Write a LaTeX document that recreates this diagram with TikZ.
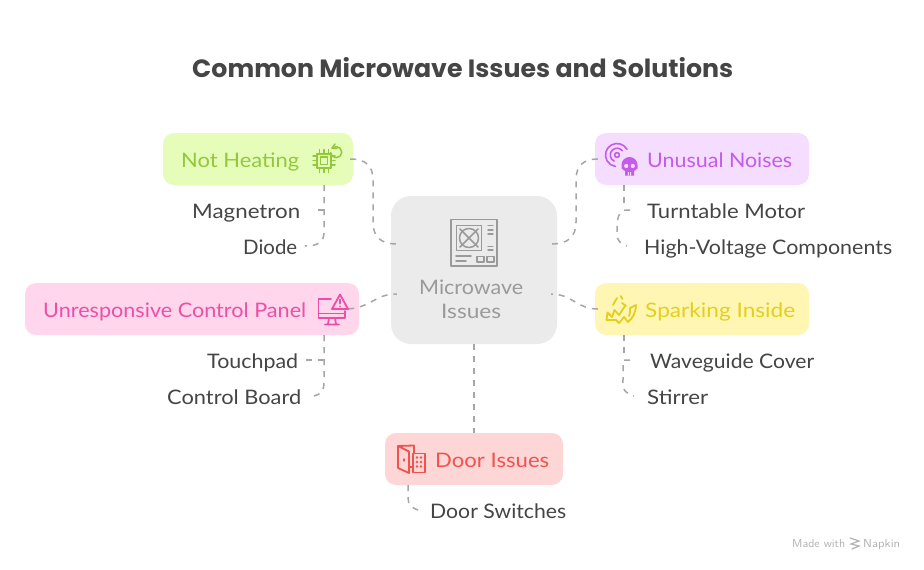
\documentclass[tikz,border=0pt]{standalone}
\usepackage{fontspec}
\usepackage{graphicx}
\setmainfont{Lato}
\newfontfamily\titlefont{Poppins}
\usetikzlibrary{calc}
\definecolor{inkc}{HTML}{454545}
\definecolor{centc}{HTML}{9A9A9A}
\definecolor{centf}{HTML}{EBEBEB}
\definecolor{conc}{HTML}{A6A6A6}
\definecolor{grn}{HTML}{93C83C}
\definecolor{grnf}{HTML}{E6FDBA}
\definecolor{pur}{HTML}{C45BEA}
\definecolor{purf}{HTML}{F4DDFF}
\definecolor{pnk}{HTML}{EC4FA8}
\definecolor{pnkf}{HTML}{FFD6EC}
\definecolor{ylw}{HTML}{E6CE1E}
\definecolor{ylwf}{HTML}{FFF6B3}
\definecolor{redc}{HTML}{EF5350}
\definecolor{redf}{HTML}{FFD6D6}
\newcommand{\fitw}[2]{\resizebox{#1pt}{\height}{#2}}
\tikzset{
  x=1pt,y=-1pt,
  box/.style={draw=none,rounded corners=11pt,inner sep=0pt},
  lbl/.style={anchor=base west,inner sep=0pt,font=\fontsize{20}{24}\selectfont},
  conn/.style={draw=conc,line width=1.5pt,dash pattern=on 6pt off 6pt},
  icon/.style={line width=1.8pt,line join=round,line cap=round},
}
\begin{document}
\begin{tikzpicture}
\useasboundingbox (0,0) rectangle (924,570);
\fill[white] (0,0) rectangle (924,570);
% boxes
\node[box,fill=centf,rounded corners=20pt,minimum width=166pt,minimum height=148pt] (cent) at (474,270) {};
\node[box,fill=grnf,minimum width=190pt,minimum height=52pt] (noth) at (258,159) {};
\node[box,fill=purf,minimum width=214pt,minimum height=52pt] (unus) at (702,159) {};
\node[box,fill=pnkf,minimum width=334pt,minimum height=52pt] (unre) at (192,309) {};
\node[box,fill=ylwf,minimum width=214pt,minimum height=52pt] (spar) at (702,309) {};
\node[box,fill=redf,minimum width=178pt,minimum height=52pt] (door) at (474,459) {};
% title
\node[anchor=base west,inner sep=0pt,text=inkc] (title) at (192,77) {\fitw{541}{\titlefont\bfseries\fontsize{25}{30}\selectfont Common Microwave Issues and Solutions}};
% labels
\node[lbl,text=grn] (tnoth) at (181,167) {\fitw{118}{Not Heating}};
\node[lbl,text=inkc] (tmag) at (192,218) {\fitw{108}{Magnetron}};
\node[lbl,text=inkc] (tdio) at (243,254) {\fitw{54}{Diode}};
\node[lbl,text=pur] (tunus) at (647,167) {\fitw{145}{Unusual Noises}};
\node[lbl,text=inkc] (ttur) at (647,218) {\fitw{158}{Turntable Motor}};
\node[lbl,text=inkc] (thig) at (644,254) {\fitw{248}{High-Voltage Components}};
\node[lbl,text=pnk] (tunre) at (43,317) {\fitw{263}{Unresponsive Control Panel}};
\node[lbl,text=inkc] (ttou) at (207,368) {\fitw{91}{Touchpad}};
\node[lbl,text=inkc] (tcon) at (167,404) {\fitw{134}{Control Board}};
\node[lbl,text=ylw] (tspar) at (645,317) {\fitw{150}{Sparking Inside}};
\node[lbl,text=inkc] (twav) at (650,368) {\fitw{164}{Waveguide Cover}};
\node[lbl,text=inkc] (tsti) at (647,404) {\fitw{61}{Stirrer}};
\node[lbl,text=redc] (tdoor) at (435,467) {\fitw{114}{Door Issues}};
\node[lbl,text=inkc] (tsw) at (430,518) {\fitw{136}{Door Switches}};
\node[lbl,text=centc] (tmic) at (419,294) {\fitw{104}{Microwave}};
\node[lbl,text=centc] (tiss) at (441,318) {\fitw{60}{Issues}};
\node[anchor=base west,inner sep=0pt,text=black!30,font=\fontsize{11.5}{14}\sffamily] (tmade) at (792,547) {\fitw{53}{Made with}};
\node[anchor=base west,inner sep=0pt,text=black!30,font=\fontsize{11.5}{14}\sffamily] (tnap) at (863,547) {\fitw{37}{Napkin}};
% connector endpoints
\coordinate (cL1) at ($(cent.west)+(6,-26)$);
\coordinate (cL2) at ($(cent.west)+(6,24)$);
\coordinate (cR1) at ($(cent.east)+(-6,-26)$);
\coordinate (cR2) at ($(cent.east)+(-6,24)$);
\coordinate (nE) at ($(noth.east)+(-3,0)$);
\coordinate (uW) at ($(unus.west)+(3,0)$);
\coordinate (pE) at ($(unre.east)+(-11,0)$);
\coordinate (sW) at ($(spar.west)+(3,0)$);
% main connectors
\draw[conn] (nE) .. controls (366,159) and (373,166) .. (373,180) -- (373,222) .. controls (373,237) and (381,244) .. (cL1);
\draw[conn] (uW) .. controls (583,159) and (576,166) .. (576,180) -- (576,222) .. controls (576,237) and (568,244) .. (cR1);
\draw[conn] (pE) .. controls (372,307) and (375,294) .. (cL2);
\draw[conn] (sW) .. controls (577,309) and (572,294) .. (cR2);
\draw[conn] (cent.south) -- (door.north);
% child connectors
\coordinate (n1) at (318,210); \coordinate (n2) at (305,246);
\draw[conn] (noth.south -| 324,185) -- (324,232) .. controls (324,242) and (318,246) .. (n2);
\draw[conn,dash pattern=on 6pt off 2pt] (n1) -- (324,210);
\coordinate (u1) at (630,210); \coordinate (u2) at (627,246);
\draw[conn] (624,185) -- (624,206);
\draw[conn] (u1) -- (625,210) .. controls (619,212) and (617,218) .. (617,226) -- (617,234) .. controls (617,241) and (621,244) .. (u2);
\coordinate (p1) at (306,360); \coordinate (p2) at (314,396);
\draw[conn] (324,335) -- (324,382) .. controls (324,391) and (321,394) .. (p2);
\draw[conn] (p1) -- (324,360);
\coordinate (s1) at (630,360); \coordinate (s2) at (634,396);
\draw[conn] (624,335) -- (624,356);
\draw[conn] (s1) -- (623,360) -- (623,380) .. controls (622,390) and (626,394) .. (s2);
\coordinate (d2) at (418,510);
\draw[conn] (408,485) -- (408,498) .. controls (408,505) and (412,508) .. (d2);
% microwave icon
\begin{scope}[icon,draw=centc]
\draw[line width=1.9pt] (451,219.5) rectangle (497,266);
\draw[line width=1.9pt] (456.5,225.5) rectangle (481.5,250.5);
\draw[line width=1.5pt] (469,238) circle (9.5);
\draw[line width=1.5pt] (460,229) -- (478,247) (478,229) -- (460,247);
\foreach \yy in {225.5,230,234}{\draw[line width=1.4pt] (488,\yy) -- (493,\yy);}
\foreach \yy in {246.5,250}{\draw[line width=1.4pt] (488,\yy) -- (493,\yy);}
\draw[line width=1.6pt] (456,256) -- (471,256) (456,261) -- (466,261);
\draw[line width=1.6pt] (477,256.5) rectangle (484,262);
\draw[line width=1.6pt] (487,256.5) rectangle (494,262);
\end{scope}
% chip icon
\begin{scope}[icon,draw=grn]
\draw[line width=2pt] (317,153.5) rectangle (331,168);
\draw[line width=1.8pt] (320.5,157) rectangle (327.5,164.5);
\foreach \a in {319.5,324,328.5}{\draw[line width=1.5pt] (\a,149.5) -- (\a,153) (\a,168.5) -- (\a,172.5);}
\foreach \a in {156,160.5,165}{\draw[line width=1.5pt] (313,\a) -- (316.5,\a) (331.5,\a) -- (335,\a);}
\draw[line width=1.5pt] (332.2,148.2) arc[start angle=225,end angle=535,radius=5.6];
\draw[line width=1.5pt] (332,148.2) -- (335,144) (332,148.2) -- (337,148.5);
\end{scope}
% skull icon
\begin{scope}[icon,draw=pur]
\draw[line width=1.6pt] (617,155) circle (2.4);
\draw[line width=1.6pt] (617,155) ++(-40:6.8) arc[start angle=-40,end angle=-245,radius=6.8];
\draw[line width=1.6pt] (617,155) ++(-30:11.5) arc[start angle=-30,end angle=-262,radius=11.5];
\fill[purf] (629.5,165) circle (9.5);
\fill[pur] (621.5,165) arc[start angle=180,end angle=360,radius=8] -- (637.5,168.5) -- (634,171) -- (634,175.5) -- (625,175.5) -- (625,171) -- (621.5,168.5) -- cycle;
\fill[purf] (626.2,166) circle (2.1) (632.8,166) circle (2.1);
\fill[purf] (627.8,172) rectangle (628.8,175.5) (630.2,172) rectangle (631.2,175.5);
\end{scope}
% spark icon
\begin{scope}[icon,draw=ylw]
\draw (606.5,320) -- (607.5,312.5) -- (612,317) -- (614.5,310) -- (619,315) -- (625,306);
\draw (606.5,320) -- (616,320) -- (619,323) -- (624,317) -- (628,322);
\draw (628,322) .. controls (633,318) and (636,312) .. (636,305) -- (630,308);
\draw (630,308) .. controls (630.5,311) and (630,314) .. (629,316);
\draw (613,305) -- (617,298);
\draw (620.5,296) -- (622.5,299);
\draw (626,306) -- (622,303);
\end{scope}
% monitor icon
\begin{scope}[icon,draw=pnk]
\draw (331,299) -- (318.5,299) -- (318.5,318) -- (345,318) -- (345,311);
\draw (318.5,313.5) -- (345,313.5);
\draw (329,318) -- (328,324) (335,318) -- (336,324) (325,324.5) -- (339,324.5);
\draw (340,294.5) -- (332,309) -- (348,309) -- cycle;
\draw[line width=1.5pt] (340,299.5) -- (340,303.5) (340,306.2) -- (340,306.3);
\end{scope}
% door icon
\begin{scope}[icon,draw=redc]
\draw (398,446) -- (414,445.5) -- (414,453);
\draw (398,446) -- (398,468) -- (409,473) -- (409,451.5) -- cycle;
\draw (409,467) -- (412,467);
\draw[line width=1.4pt] (404,459) -- (404,461);
\draw (413,453.5) rectangle (425,472.5);
\foreach \a in {417,421}{\foreach \b in {457.5,462,466.5}{\fill[redc] (\a,\b) circle (1.3);}}
\end{scope}
% napkin glyph
\begin{scope}[line width=1.2pt,draw=black!30,line cap=round]
\draw (850,538) -- (859,541) -- (851,544) -- (859,546) -- (852,549);
\end{scope}
\end{tikzpicture}
\end{document}
